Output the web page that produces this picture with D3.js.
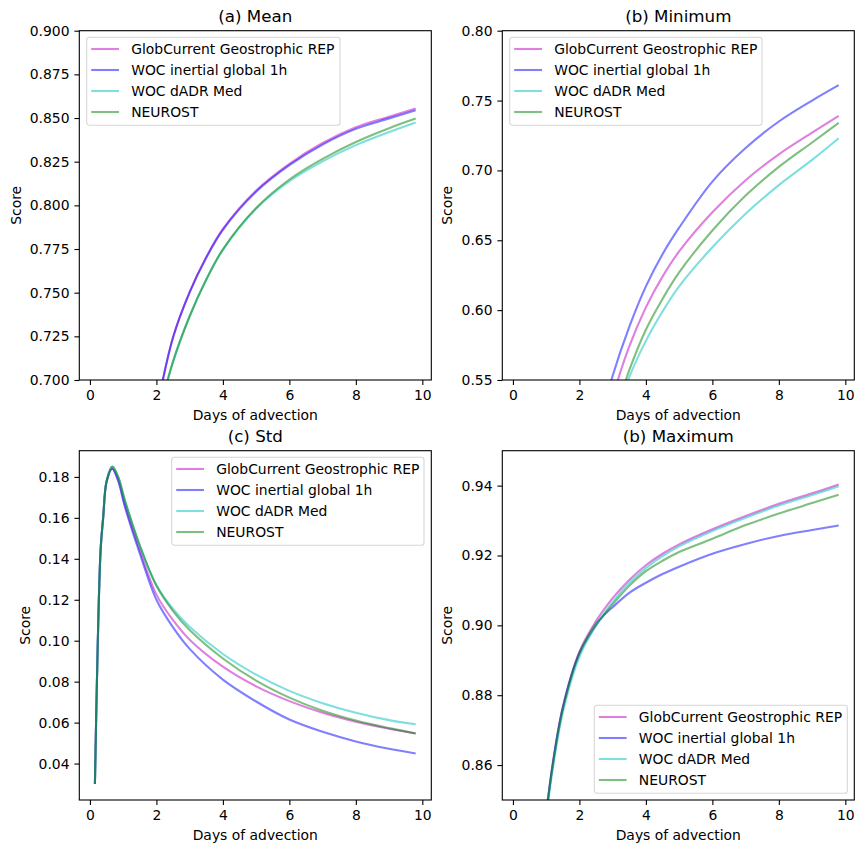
<!DOCTYPE html>
<html>
<head>
<meta charset="utf-8">
<script src="https://cdn.jsdelivr.net/npm/d3@7"></script>
<style>
  body { margin: 0; background: #fff; }
  svg { font-family: "DejaVu Sans", sans-serif; }
</style>
</head>
<body>
<div id="chart-area"></div>
<script>

  const seriesNames = ['GlobCurrent Geostrophic REP', 'WOC inertial global 1h', 'WOC dADR Med', 'NEUROST'];
  const seriesColors = ['#bf00bf', '#0000ff', '#00bfbf', '#008000'];
  const xTicks = [0, 2, 4, 6, 8, 10];

  // (a) Mean
  const meanDays = [2, 2.5, 3, 3.5, 4, 5, 6, 7, 8, 9, 9.8];
  const meanGlob = [0.682, 0.7245, 0.7505, 0.7705, 0.7865, 0.8085, 0.8238, 0.8357, 0.8447, 0.8508, 0.8555];
  const meanInertial = [0.682, 0.7243, 0.7502, 0.7700, 0.7860, 0.8078, 0.8230, 0.8348, 0.8438, 0.8498, 0.8545];
  const meanDadr = [0.675, 0.7105, 0.7365, 0.7575, 0.7745, 0.7980, 0.8138, 0.8252, 0.8345, 0.8420, 0.8475];
  const meanNeurost = [0.675, 0.7105, 0.7365, 0.7575, 0.7748, 0.7985, 0.8148, 0.8266, 0.8363, 0.8442, 0.8497];
  const meanTicks = [0.700, 0.725, 0.750, 0.775, 0.800, 0.825, 0.850, 0.875, 0.900];

  // (b) Minimum
  const minDays = [2.5, 3, 3.5, 4, 4.5, 5, 6, 7, 8, 9, 9.8];
  const minGlob = [0.495, 0.538, 0.574, 0.602, 0.624, 0.642, 0.670, 0.693, 0.7115, 0.727, 0.739];
  const minInertial = [0.508, 0.553, 0.588, 0.617, 0.640, 0.659, 0.692, 0.716, 0.735, 0.750, 0.761];
  const minDadr = [0.475, 0.517, 0.552, 0.578, 0.599, 0.617, 0.645, 0.669, 0.6895, 0.7075, 0.723];
  const minNeurost = [0.478, 0.520, 0.557, 0.586, 0.608, 0.627, 0.657, 0.682, 0.7025, 0.720, 0.734];
  const minTicks = [0.55, 0.60, 0.65, 0.70, 0.75, 0.80];

  // (c) Std
  const stdDays = [0.15, 0.23, 0.32, 0.4, 0.5, 0.67, 0.85, 1.05, 1.5, 2, 2.5, 3, 4, 5, 6, 7, 8, 9, 9.8];
  const stdGlob = [0.030, 0.095, 0.144, 0.1605, 0.1775, 0.1840, 0.1785, 0.1665, 0.1442, 0.1225, 0.1100, 0.1005, 0.0873, 0.0777, 0.0705, 0.0648, 0.0604, 0.0570, 0.0547];
  const stdInertial = [0.030, 0.095, 0.144, 0.1605, 0.1775, 0.1840, 0.1780, 0.1655, 0.1426, 0.1200, 0.1065, 0.0960, 0.0810, 0.0703, 0.0615, 0.0555, 0.0508, 0.0472, 0.0449];
  const stdDadr = [0.030, 0.095, 0.144, 0.1605, 0.178, 0.1850, 0.1800, 0.1686, 0.1465, 0.1272, 0.1155, 0.1068, 0.0935, 0.0834, 0.0755, 0.0695, 0.0648, 0.0612, 0.0592];
  const stdNeurost = [0.030, 0.095, 0.144, 0.1605, 0.178, 0.1850, 0.1800, 0.1686, 0.1465, 0.1268, 0.1145, 0.1052, 0.0913, 0.0805, 0.0722, 0.0658, 0.0610, 0.0573, 0.0547];
  const stdTicks = [0.04, 0.06, 0.08, 0.10, 0.12, 0.14, 0.16, 0.18];

  // (b) Maximum
  const maxDays = [1, 1.2, 1.5, 2, 2.5, 2.7, 3, 3.5, 4, 4.5, 5, 6, 7, 8, 9, 9.8];
  const maxGlob = [0.846, 0.8605, 0.8765, 0.8925, 0.9012, 0.9040, 0.9078, 0.9130, 0.9172, 0.9205, 0.9232, 0.9275, 0.9313, 0.9348, 0.9378, 0.9403];
  const maxInertial = [0.846, 0.8605, 0.8765, 0.8920, 0.9000, 0.9025, 0.9052, 0.9093, 0.9122, 0.9147, 0.9168, 0.9205, 0.9233, 0.9256, 0.9273, 0.9286];
  const maxDadr = [0.845, 0.8590, 0.8750, 0.8910, 0.9000, 0.9028, 0.9067, 0.9121, 0.9164, 0.9198, 0.9226, 0.9270, 0.9308, 0.9343, 0.9373, 0.9398];
  const maxNeurost = [0.846, 0.8600, 0.8760, 0.8920, 0.9005, 0.9026, 0.9060, 0.9113, 0.9155, 0.9185, 0.9210, 0.9248, 0.9287, 0.9320, 0.9350, 0.9374];
  const maxTicks = [0.86, 0.88, 0.90, 0.92, 0.94];

  const widthSvg = 864;
  const heightSvg = 853;
  const plotW = 352;
  const plotH = 349.3;
  const tickFont = 13.9;

  const panels = [
    { title: '(a) Mean', left: 79.3, top: 30.7, days: meanDays, values: [meanGlob, meanInertial, meanDadr, meanNeurost],
      yDomain: [0.7, 0.9], yTicks: meanTicks, fmt: '.3f', scoreX: 16, legend: { x: 86.7, y: 37.3, w: 253.3 } },
    { title: '(b) Minimum', left: 502.3, top: 30.7, days: minDays, values: [minGlob, minInertial, minDadr, minNeurost],
      yDomain: [0.55, 0.8], yTicks: minTicks, fmt: '.2f', scoreX: 447, legend: { x: 509.7, y: 37.3, w: 252.3 } },
    { title: '(c) Std', left: 79.3, top: 450.7, days: stdDays, values: [stdGlob, stdInertial, stdDadr, stdNeurost],
      yDomain: [0.0222, 0.1928], yTicks: stdTicks, fmt: '.2f', scoreX: 25, legend: { x: 171.7, y: 457.3, w: 252.3 } },
    { title: '(b) Maximum', left: 502.3, top: 450.7, days: maxDays, values: [maxGlob, maxInertial, maxDadr, maxNeurost],
      yDomain: [0.85, 0.95], yTicks: maxTicks, fmt: '.2f', scoreX: 447, legend: { x: 594.3, y: 705.3, w: 253 } }
  ];

  const svg = d3.select('#chart-area')
    .append('svg')
      .attr('width', widthSvg)
      .attr('height', heightSvg);

  panels.forEach((p, pi) => {
    const scaleX = d3.scaleLinear()
      .domain([-0.32, 10.27])
      .range([0, plotW]);

    const scaleY = d3.scaleLinear()
      .domain(p.yDomain)
      .range([plotH, 0]);

    const g = svg.append('g')
      .attr('transform', `translate(${p.left}, ${p.top})`);

    g.append('clipPath')
      .attr('id', `clip${pi}`)
      .append('rect')
        .attr('width', plotW)
        .attr('height', plotH);

    const line = d3.line()
      .x(d => scaleX(d[0]))
      .y(d => scaleY(d[1]))
      .curve(d3.curveCatmullRom.alpha(0.5));

    const lines = g.append('g').attr('clip-path', `url(#clip${pi})`);
    p.values.forEach((vals, i) => {
      lines.append('path')
        .datum(p.days.map((x, j) => [x, vals[j]]))
        .attr('fill', 'none')
        .attr('stroke', seriesColors[i])
        .attr('stroke-opacity', 0.5)
        .attr('stroke-width', 2.1)
        .attr('d', line);
    });

    const axisX = d3.axisBottom(scaleX)
      .tickValues(xTicks)
      .tickFormat(d3.format('d'))
      .tickSize(4.9)
      .tickPadding(4.9);

    const axisY = d3.axisLeft(scaleY)
      .tickValues(p.yTicks)
      .tickFormat(d3.format(p.fmt))
      .tickSize(4.9)
      .tickPadding(4.9);

    const gx = g.append('g')
      .attr('transform', `translate(0, ${plotH})`)
      .call(axisX);
    const gy = g.append('g').call(axisY);

    [gx, gy].forEach(a => {
      a.select('.domain').remove();
      a.selectAll('line').attr('stroke', '#000').attr('stroke-width', 1.1);
      a.selectAll('text')
        .attr('fill', '#000')
        .attr('font-size', tickFont)
        .attr('font-family', 'DejaVu Sans');
    });

    g.append('rect')
      .attr('width', plotW)
      .attr('height', plotH)
      .attr('fill', 'none')
      .attr('stroke', '#000')
      .attr('stroke-width', 1.1);

    g.append('text')
      .text(p.title)
      .attr('x', plotW / 2)
      .attr('y', -8.5)
      .attr('text-anchor', 'middle')
      .attr('font-size', 16.7);

    g.append('text')
      .text('Days of advection')
      .attr('x', plotW / 2)
      .attr('y', plotH + 40)
      .attr('text-anchor', 'middle')
      .attr('font-size', tickFont);

    g.append('text')
      .text('Score')
      .attr('text-anchor', 'middle')
      .attr('font-size', tickFont)
      .attr('transform', `translate(${p.scoreX - p.left + 5}, ${plotH / 2})rotate(-90)`);

    // legend
    const legend = svg.append('g')
      .attr('transform', `translate(${p.legend.x}, ${p.legend.y})`);

    legend.append('rect')
      .attr('width', p.legend.w)
      .attr('height', 88)
      .attr('rx', 2.8)
      .attr('fill', '#fff')
      .attr('fill-opacity', 0.8)
      .attr('stroke', '#d6d6d6')
      .attr('stroke-width', 1.1);

    seriesNames.forEach((name, i) => {
      const row = legend.append('g')
        .attr('transform', `translate(0, ${11.7 + i * 21})`);

      row.append('line')
        .attr('x1', 4.5)
        .attr('x2', 32.3)
        .attr('stroke', seriesColors[i])
        .attr('stroke-opacity', 0.5)
        .attr('stroke-width', 2.1);

      row.append('text')
        .text(name)
        .attr('x', 44.5)
        .attr('y', 5)
        .attr('font-size', tickFont);
    });
  });

</script>
</body>
</html>
